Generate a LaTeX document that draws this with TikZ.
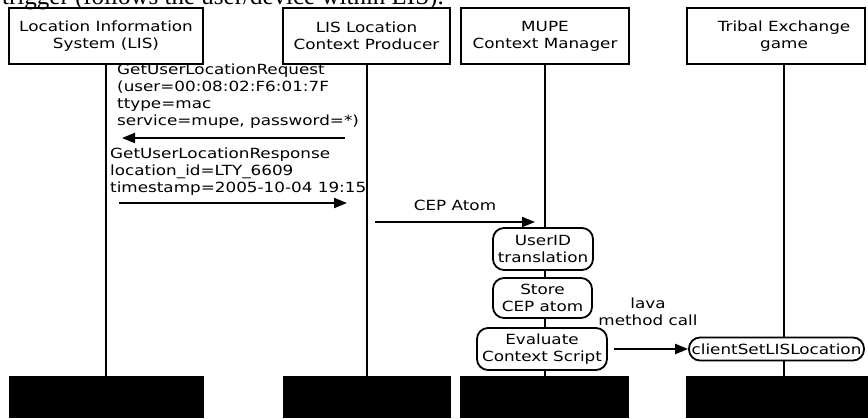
\documentclass[tikz,border=0pt]{standalone}
\usepackage{fontspec}
\newfontfamily\diagfont{DejaVu Sans}[FakeStretch=1.2]
\newfontfamily\capfont{Liberation Serif}
\usetikzlibrary{arrows.meta}

\begin{document}
\begin{tikzpicture}[x=1pt,y=-1pt,
	every node/.style={font=\diagfont\fontsize{14}{17}\selectfont},
	actor/.style={draw,line width=2pt,minimum height=56pt,align=center,inner sep=0pt},
	endbox/.style={fill=black,minimum height=42pt,inner sep=0pt},
	lifeline/.style={line width=2pt},
	activity/.style={draw,fill=white,line width=1.8pt,rounded corners=11pt,align=center,inner xsep=2pt,inner ysep=1pt},
	msg/.style={line width=2pt,-{Triangle[length=13pt,width=10pt]}},
	msgtext/.style={align=left,inner sep=0pt},
	lbl/.style={align=center,inner sep=0pt}]
	\useasboundingbox (0,0) rectangle (868,418);

	% cut caption line above the chart
	\node[anchor=base west,inner sep=0pt] (caption) at (2,4) {\capfont\fontsize{25}{30}\selectfont trigger (follows the user/device within LIS).};

	\node[actor,minimum width=194pt] (lis) at (106,36) {Location Information\\System (LIS)};
	\node[actor,minimum width=167pt] (ctxprod) at (366.5,36) {LIS Location\\Context Producer};
	\node[actor,minimum width=168pt] (mupe) at (545,36) {MUPE\\Context Manager};
	\node[actor,minimum width=178pt] (tribal) at (776,36) {};
	\node[lbl] (tribaltxt) at (784,36) {Tribal Exchange\\game};

	% lifeline ends
	\node[endbox,minimum width=195pt] (lisend) at (106.5,397) {};
	\node[endbox,minimum width=168pt] (ctxprodend) at (367,397) {};
	\node[endbox,minimum width=169pt] (mupeend) at (544.5,397) {};
	\node[endbox,minimum width=196pt] (tribalend) at (784,397) {};

	\draw[lifeline] (lis.south) -- (lis.south |- lisend.north);
	\draw[lifeline] (ctxprod.south) -- (ctxprod.south |- ctxprodend.north);
	\draw[lifeline] (mupe.south) -- (mupe.south |- mupeend.north);
	\draw[lifeline] (tribaltxt |- tribal.south) -- (tribaltxt |- tribalend.north);

	% request / response
	\node[msgtext,anchor=north west] (reqtxt) at (117,64) {GetUserLocationRequest\\(user=00:08:02:F6:01:7F\\ttype=mac\\service=mupe, password=*)};
	\coordinate (reqfrom) at (345,138);
	\coordinate (reqto) at (122,138);
	\draw[msg] (reqfrom) -- (reqto);

	\node[msgtext,anchor=north west] (resptxt) at (110,148) {GetUserLocationResponse\\location\_id=LTY\_6609\\timestamp=2005-10-04 19:15};
	\coordinate (respfrom) at (119,203);
	\coordinate (respto) at (347,203);
	\draw[msg] (respfrom) -- (respto);

	\coordinate (cepfrom) at (375,222);
	\coordinate (cepto) at (535,222);
	\draw[msg] (cepfrom) -- node[lbl,above=10pt] (ceptxt) {CEP Atom} (cepto);

	% activities on the context manager
	\node[activity,minimum width=100pt,minimum height=42pt] (uidtr) at (543,249) {UserID\\translation};
	\node[activity,minimum width=99pt,minimum height=40pt] (storeatom) at (542.5,298) {Store\\CEP atom};
	\node[activity,minimum width=130pt,minimum height=42pt] (evalscript) at (542,349) {Evaluate\\Context Script};
	\node[activity,minimum width=175pt,minimum height=23pt] (setloc) at (776.5,349) {clientSetLISLocation};

	\draw[msg,shorten <=6pt] (evalscript.east) -- node[lbl,above=22pt] (calltxt) {lava\\method call} (setloc.west);
\end{tikzpicture}
\end{document}
